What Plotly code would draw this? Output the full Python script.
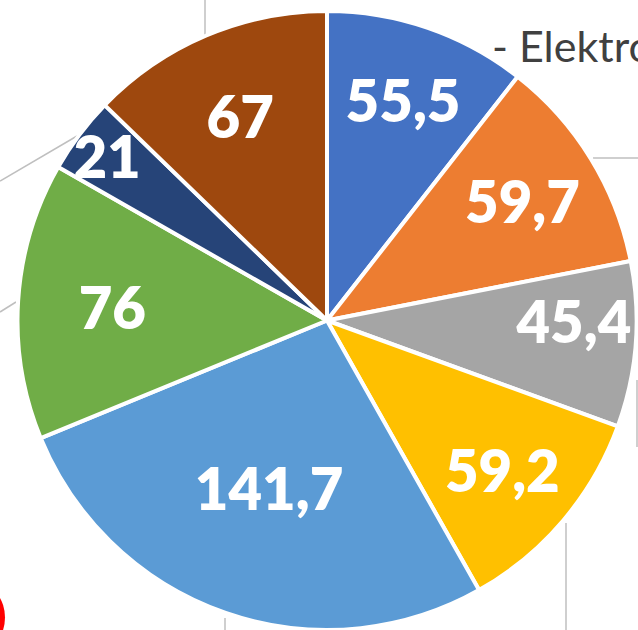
import plotly.graph_objects as go

values = [55.5, 59.7, 45.4, 59.2, 141.7, 76, 21, 67]
labels = ["A", "B", "C", "D", "E", "F", "G", "H"]
colors = ["#4472C4", "#ED7D31", "#A5A5A5", "#FFC000", "#5B9BD5", "#70AD47", "#264478", "#9E480E"]
texts = [f"{v:g}".replace(".", ",") for v in values]

W, H = 638, 630
fig = go.Figure()
fig.add_trace(go.Pie(
    values=values, labels=labels, text=texts, textinfo="text",
    sort=False, direction="clockwise", rotation=0,
    marker=dict(colors=colors, line=dict(color="white", width=4)),
    textposition="inside", insidetextorientation="horizontal",
    textfont=dict(family="Lato", size=58, color="white", weight=800),
    domain=dict(x=[17/W, 637/W], y=[0, 619/H]),
    showlegend=False, hoverinfo="skip",
))

line_style = dict(color="#BFBFBF", width=1.5)
segs = [
    (205, 0, 205, 35),
    (0, 181, 77, 136),
    (0, 312, 16, 302),
    (593, 158, 638, 158),
    (637, 380, 637, 447),
    (566, 523, 566, 630),
    (225, 618, 225, 630),
]
shapes = []
for x0, y0, x1, y1 in segs:
    shapes.append(dict(type="line", xref="paper", yref="paper", layer="below",
                       x0=x0/W, x1=x1/W, y0=1-y0/H, y1=1-y1/H, line=line_style))
shapes.append(dict(type="circle", xref="paper", yref="paper", layer="below",
                   x0=-45/W, x1=5/W, y0=1-650/H, y1=1-585/H,
                   fillcolor="#FF0000", line=dict(width=0)))

fig.update_layout(
    width=W, height=H, margin=dict(l=0, r=0, t=0, b=0),
    paper_bgcolor="white", plot_bgcolor="white",
    uniformtext=dict(mode="show", minsize=58),
    shapes=shapes,
    annotations=[dict(text="- Elektro", xref="paper", yref="paper",
                      x=490/W, y=1-46/H, xanchor="left", yanchor="middle",
                      showarrow=False, font=dict(family="Lato", size=43, color="#404040"))],
)
fig.write_html("out.html")
